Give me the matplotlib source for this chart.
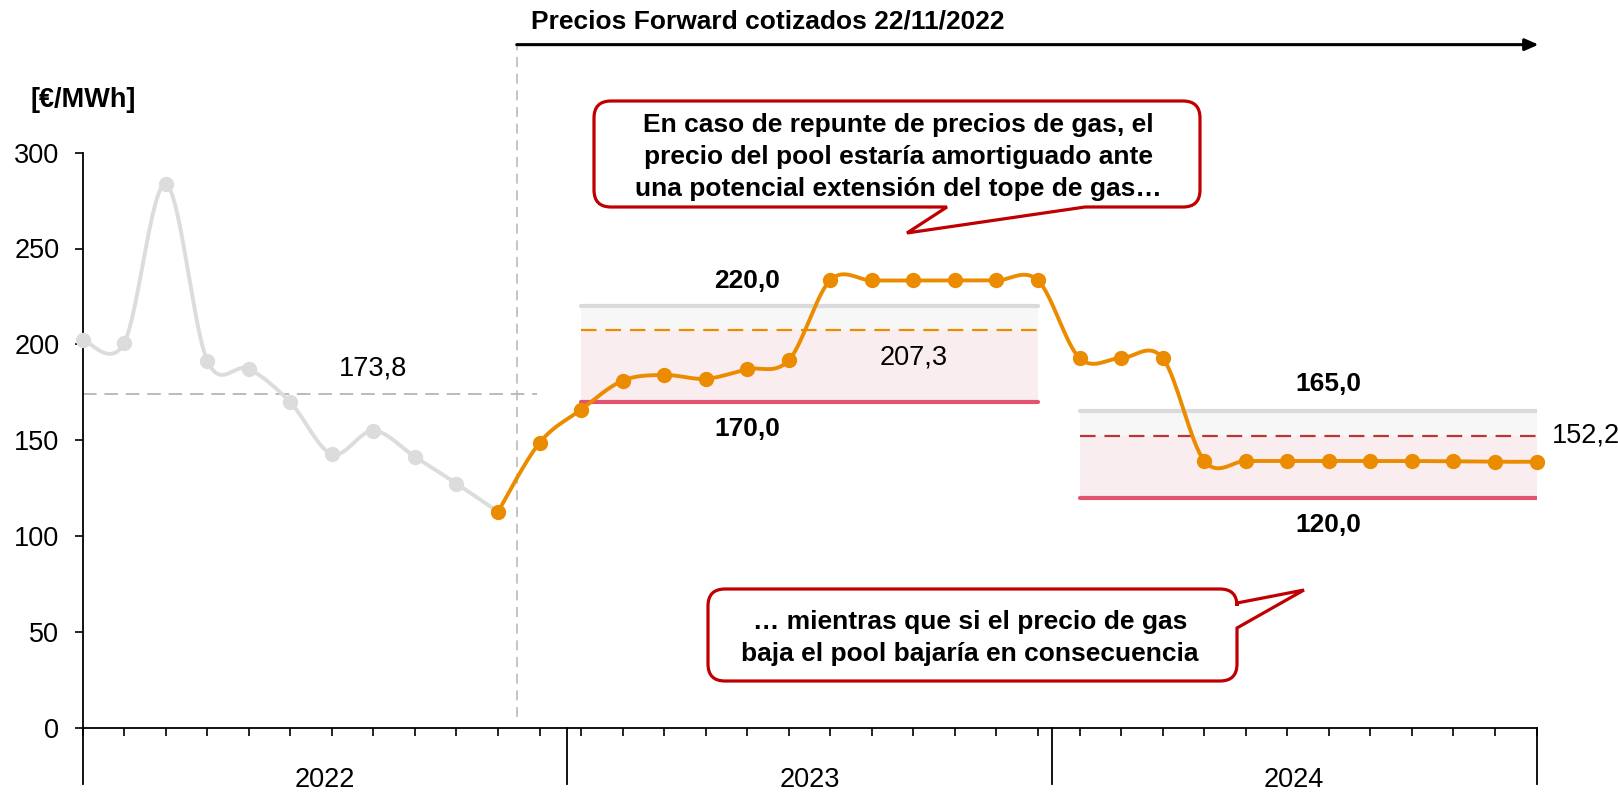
import numpy as np
import matplotlib
matplotlib.use("Agg")
import matplotlib.pyplot as plt
from matplotlib.path import Path
from matplotlib.patches import PathPatch
from matplotlib.transforms import IdentityTransform

plt.rcParams['font.family'] = ['Liberation Sans', 'DejaVu Sans']

# monthly pool price, Jan 2022 .. Dec 2024 (index 0..35)
hist_idx = list(range(0, 11))
hist_vals = [202.5, 200.6, 283.6, 191.5, 187.2, 169.7, 142.7, 154.9, 141.3, 127.3, 112.6]
fwd_idx = list(range(10, 36))
fwd_vals = [112.6, 148.6, 165.9, 181.0, 184.0, 182.0, 187.0, 191.7,
            233.5, 233.3, 233.3, 233.3, 233.3, 233.3,
            192.8, 192.8, 192.8,
            139.3, 139.1, 139.1, 139.1, 139.1, 139.1, 138.9, 138.7, 138.7]

avg_2022 = 173.8
band_2023 = (170.0, 207.3, 220.0)   # low, mean, high
band_2024 = (120.0, 152.2, 165.0)
years = ["2022", "2023", "2024"]
yticks = [0, 50, 100, 150, 200, 250, 300]

ORANGE = "#EB8C00"
GREY = "#DCDCDC"
RED = "#E0546F"
DARKRED = "#B83636"
BOX = "#C00000"

W, H = 1618, 796
FS = 19.5


def smooth(xs, ys, n=20):
    # Excel-like smoothed line (Catmull-Rom as cubic Bezier)
    xs = np.asarray(xs, float)
    ys = np.asarray(ys, float)
    P = np.column_stack([xs, ys])
    out = [P[0]]
    for i in range(len(P) - 1):
        p0 = P[i - 1] if i > 0 else P[i]
        p1, p2 = P[i], P[i + 1]
        p3 = P[i + 2] if i + 2 < len(P) else P[i + 1]
        c1 = p1 + (p2 - p0) / 6
        c2 = p2 - (p3 - p1) / 6
        t = np.linspace(0, 1, n)[1:, None]
        seg = (1 - t) ** 3 * p1 + 3 * (1 - t) ** 2 * t * c1 + 3 * (1 - t) * t ** 2 * c2 + t ** 3 * p2
        out.extend(seg)
    out = np.array(out)
    return out[:, 0], out[:, 1]


def callout(ax, x0, y0, x1, y1, r, side, tail):
    # pixel coords, y measured from top
    v, c = [], []

    def mv(p, code):
        v.append((p[0], H - p[1]))
        c.append(code)

    mv((x0 + r, y0), Path.MOVETO)
    mv((x1 - r, y0), Path.LINETO)
    mv((x1, y0), Path.CURVE3)
    mv((x1, y0 + r), Path.CURVE3)
    if side == "right":
        for p in tail:
            mv(p, Path.LINETO)
    mv((x1, y1 - r), Path.LINETO)
    mv((x1, y1), Path.CURVE3)
    mv((x1 - r, y1), Path.CURVE3)
    if side == "bottom":
        for p in tail:
            mv(p, Path.LINETO)
    mv((x0 + r, y1), Path.LINETO)
    mv((x0, y1), Path.CURVE3)
    mv((x0, y1 - r), Path.CURVE3)
    mv((x0, y0 + r), Path.LINETO)
    mv((x0, y0), Path.CURVE3)
    mv((x0 + r, y0), Path.CURVE3)
    mv((x0 + r, y0), Path.CLOSEPOLY)
    patch = PathPatch(Path(v, c), facecolor="white", edgecolor=BOX, lw=2.3,
                      transform=IdentityTransform(), zorder=10)
    ax.figure.patches.append(patch)


fig = plt.figure(figsize=(W / 100, H / 100), dpi=100)
ax = fig.add_axes([82.6 / W, 1 - 727.5 / H, (1536.5 - 82.6) / W, (727.5 - 152.7) / H])
ax.set_xlim(0, 35)
ax.set_ylim(0, 300)

for s in ["top", "right"]:
    ax.spines[s].set_visible(False)
ax.spines["left"].set_linewidth(1.3)
ax.spines["bottom"].set_linewidth(1.3)

ax.set_yticks(yticks)
ax.tick_params(axis="y", direction="out", length=5.8, width=1.2, pad=11, labelsize=FS)
ax.set_xticks(range(0, 36))
ax.set_xticklabels([])
ax.tick_params(axis="x", direction="out", length=5.8, width=1.2)

# year separators and labels
for k in range(4):
    xs = k * 35 / 3
    ax.plot([xs, xs], [0, -29.6], color="black", lw=1.3, clip_on=False)
for k, yr in enumerate(years):
    ax.text((k + 0.5) * 35 / 3, -27.5, yr, ha="center", va="center", fontsize=FS)

# bands
for (lo, mid, hi), (a, b), dcol in [(band_2023, (12, 23), ORANGE), (band_2024, (24, 35), DARKRED)]:
    ax.fill_between([a, b], lo, mid, color="#FAEDF0", lw=0, zorder=1)
    ax.fill_between([a, b], mid, hi, color="#F7F7F7", lw=0, zorder=1)
    ax.plot([a, b], [hi, hi], color="#DADADA", lw=3, solid_capstyle="round", zorder=2)
    ax.plot([a, b], [lo, lo], color=RED, lw=3, solid_capstyle="round", zorder=2)
    ax.plot([a, b], [mid, mid], color=dcol, lw=1.6, dashes=(7, 4), zorder=2)

ax.text(16.0, 233.2, "220,0", ha="center", va="center", fontsize=19, fontweight="bold")
ax.text(16.0, 155.6, "170,0", ha="center", va="center", fontsize=19, fontweight="bold")
ax.text(20.0, 193.1, "207,3", ha="center", va="center", fontsize=FS)
ax.text(30.0, 179.1, "165,0", ha="center", va="center", fontsize=19, fontweight="bold")
ax.text(30.0, 105.9, "120,0", ha="center", va="center", fontsize=19, fontweight="bold")
ax.text(35.36, 152.5, "152,2", ha="left", va="center", fontsize=FS, clip_on=False)

# 2022 average
ax.plot([0, 10.93], [avg_2022, avg_2022], color="#BBBBBB", lw=1.4, dashes=(7, 4), zorder=2)
ax.text(7.0, 187.4, "173,8", ha="center", va="center", fontsize=FS)

# forward start marker
ax.plot([10.45, 10.45], [5.5, 356.4], color="#BBBBBB", lw=1.2, dashes=(6, 4), clip_on=False, zorder=2)
ax.annotate("", xy=(35.05, 356.4), xytext=(10.45, 356.4), annotation_clip=False,
            arrowprops=dict(arrowstyle="-|>,head_length=0.8,head_width=0.35", color="black", lw=2.2,
                            shrinkA=0, shrinkB=0))
ax.text(10.8, 368.3, "Precios Forward cotizados 22/11/2022", ha="left", va="center",
        fontsize=19, fontweight="bold", clip_on=False)

# series
sx, sy = smooth(hist_idx, hist_vals)
ax.plot(sx, sy, color=GREY, lw=2.8, zorder=3, clip_on=False)
ax.plot(hist_idx[:-1], hist_vals[:-1], "o", color=GREY, ms=10, zorder=4, clip_on=False)
fx, fy = smooth(fwd_idx, fwd_vals)
ax.plot(fx, fy, color=ORANGE, lw=2.8, zorder=5, clip_on=False)
ax.plot(fwd_idx, fwd_vals, "o", color=ORANGE, ms=10, zorder=6, clip_on=False)

fig.text(31 / W, 1 - 100 / H, "[€/MWh]", ha="left", va="center", fontsize=19.5, fontweight="bold")

# callouts
callout(ax, 594, 101, 1200, 207, 17, "bottom", [(1085, 207), (907, 233), (947, 207)])
callout(ax, 708, 589, 1237, 681, 17, "right", [(1237, 603), (1304, 590), (1237, 628)])
fig.text(898 / W, 1 - 157 / H,
         "En caso de repunte de precios de gas, el\nprecio del pool estaría amortiguado ante\nuna potencial extensión del tope de gas…",
         ha="center", va="center", fontsize=19, fontweight="bold", linespacing=1.4, zorder=11)
fig.text(970 / W, 1 - 638 / H,
         "… mientras que si el precio de gas\nbaja el pool bajaría en consecuencia",
         ha="center", va="center", fontsize=19, fontweight="bold", linespacing=1.4, zorder=11)

fig.savefig("out.png", dpi=100, facecolor="white")
